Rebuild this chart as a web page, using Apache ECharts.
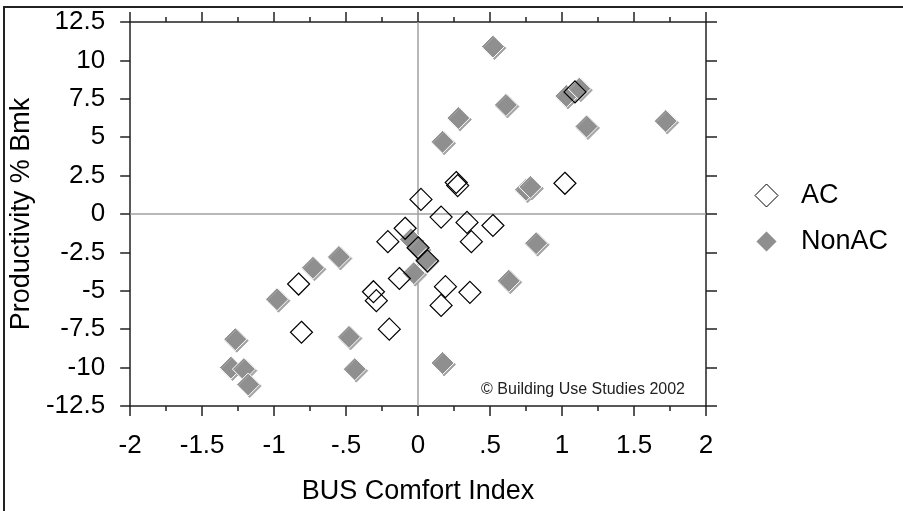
<!DOCTYPE html>
<html>
<head>
<meta charset="utf-8">
<script src="https://cdn.jsdelivr.net/npm/echarts@6/dist/echarts.min.js"></script>
<style>
  html, body { margin: 0; padding: 0; background: #fff; }
  #chart { width: 903px; height: 511px; }
</style>
</head>
<body>
<div id="chart"></div>
<script>
// 刻度标签
const xTickLabels = ['-2', '-1.5', '-1', '-.5', '0', '.5', '1', '1.5', '2'];
const yTickLabels = ['-12.5', '-10', '-7.5', '-5', '-2.5', '0', '2.5', '5', '7.5', '10', '12.5'];

// AC 建筑 [舒适指数, 生产率]
const acPoints = [
  [0.02, 0.95], [0.265, 2.05], [0.275, 1.85], [1.02, 2.0], [0.16, -0.2],
  [0.34, -0.55], [0.37, -1.8], [0.52, -0.75], [-0.21, -1.8], [-0.09, -0.93],
  [0.0, -2.2], [0.065, -3.05], [-0.13, -4.2], [-0.31, -5.06], [-0.29, -5.64],
  [-0.2, -7.5], [0.16, -5.95], [0.19, -4.73], [0.36, -5.1], [-0.83, -4.56],
  [-0.81, -7.7], [1.09, 7.95]
];

// NonAC 建筑
const nonAcPoints = [
  [0.52, 10.9], [0.61, 7.1], [0.28, 6.25], [0.17, 4.7], [1.03, 7.68],
  [1.12, 8.16], [1.17, 5.7], [1.72, 6.05], [0.75, 1.58], [0.78, 1.76],
  [0.82, -1.9], [0.63, -4.35], [0.17, -9.7], [-0.48, -8.0], [-0.44, -10.1],
  [-0.73, -3.5], [-0.98, -5.55], [-1.27, -8.15], [-1.3, -10.0], [-1.21, -10.1],
  [-1.18, -11.1], [-0.55, -2.8], [-0.03, -3.85], [-0.05, -1.65], [0.0, -2.25],
  [0.055, -3.0]
];

const font = 'Liberation Sans, Arial, sans-serif';
const axisColor = '#222';

const chart = echarts.init(document.getElementById('chart'));

chart.setOption({
  backgroundColor: '#fff',
  animation: false,
  textStyle: { fontFamily: font },
  grid: { left: 129, right: 197, top: 22, bottom: 105 },
  legend: {
    orient: 'vertical',
    left: 749,
    top: 177,
    itemWidth: 23,
    itemHeight: 23,
    itemGap: 19,
    data: [
      { name: 'AC', itemStyle: { borderWidth: 1 } },
      { name: 'NonAC' }
    ],
    textStyle: { fontSize: 27, color: '#000', fontFamily: font, padding: [0, 0, 0, 18] }
  },
  graphic: [
    {
      type: 'rect',
      shape: { x: 4, y: 7, width: 1000, height: 600 },
      style: { fill: 'none', stroke: '#222', lineWidth: 2 },
      silent: true
    },
    {
      type: 'text',
      right: 218,
      top: 382,
      style: { text: '© Building Use Studies 2002', fontSize: 16, fontFamily: font, fill: '#222' },
      silent: true
    }
  ],
  xAxis: [
    {
      type: 'value',
      position: 'bottom',
      min: -2,
      max: 2,
      interval: 0.5,
      name: 'BUS Comfort Index',
      nameLocation: 'middle',
      nameGap: 72,
      nameTextStyle: { fontSize: 27, color: '#000', fontFamily: font },
      axisLine: { onZero: false, lineStyle: { color: axisColor, width: 1.5 } },
      axisTick: { length: 10, lineStyle: { color: axisColor, width: 1.5 } },
      minorTick: { show: true, splitNumber: 2, length: 5, lineStyle: { color: axisColor, width: 1.5 } },
      axisLabel: {
        margin: 27,
        fontSize: 26,
        color: '#000',
        formatter: (v, i) => xTickLabels[i]
      },
      splitLine: { show: false }
    },
    {
      type: 'value',
      position: 'top',
      min: -2,
      max: 2,
      interval: 0.5,
      axisLine: { onZero: false, lineStyle: { color: axisColor, width: 1.5 } },
      axisTick: { length: 10, lineStyle: { color: axisColor, width: 1.5 } },
      minorTick: { show: true, splitNumber: 2, length: 5, lineStyle: { color: axisColor, width: 1.5 } },
      axisLabel: { show: false },
      splitLine: { show: false }
    }
  ],
  yAxis: [
    {
      type: 'value',
      position: 'left',
      min: -12.5,
      max: 12.5,
      interval: 2.5,
      name: 'Productivity % Bmk',
      nameLocation: 'middle',
      nameGap: 91,
      nameTextStyle: { fontSize: 27, color: '#000', fontFamily: font },
      axisLine: { onZero: false, lineStyle: { color: axisColor, width: 1.5 } },
      axisTick: { length: 10, lineStyle: { color: axisColor, width: 1.5 } },
      axisLabel: {
        margin: 25,
        fontSize: 26,
        color: '#000',
        formatter: (v, i) => yTickLabels[i]
      },
      splitLine: { show: false }
    },
    {
      type: 'value',
      position: 'right',
      min: -12.5,
      max: 12.5,
      interval: 2.5,
      axisLine: { onZero: false, lineStyle: { color: axisColor, width: 1.5 } },
      axisTick: { length: 11, lineStyle: { color: axisColor, width: 1.5 } },
      axisLabel: { show: false },
      splitLine: { show: false }
    }
  ],
  series: [
    {
      name: 'NonAC',
      type: 'scatter',
      symbol: 'diamond',
      symbolSize: 23,
      data: nonAcPoints,
      z: 2,
      itemStyle: {
        color: '#8f8f8f',
        borderColor: '#fff',
        borderWidth: 1,
        shadowColor: '#a5a5a5',
        shadowOffsetX: 1.5,
        shadowOffsetY: 1.5,
        shadowBlur: 0,
        opacity: 1
      },
      markLine: {
        silent: true,
        symbol: 'none',
        label: { show: false },
        lineStyle: { color: '#a0a0a0', width: 1.5, type: 'solid' },
        data: [{ xAxis: 0 }, { yAxis: 0 }],
        z: 1
      }
    },
    {
      name: 'AC',
      type: 'scatter',
      symbol: 'diamond',
      symbolSize: 22,
      data: acPoints,
      z: 3,
      itemStyle: {
        color: 'rgba(255,255,255,0)',
        borderColor: '#000',
        borderWidth: 1.2,
        opacity: 1
      }
    }
  ]
});
</script>
</body>
</html>
